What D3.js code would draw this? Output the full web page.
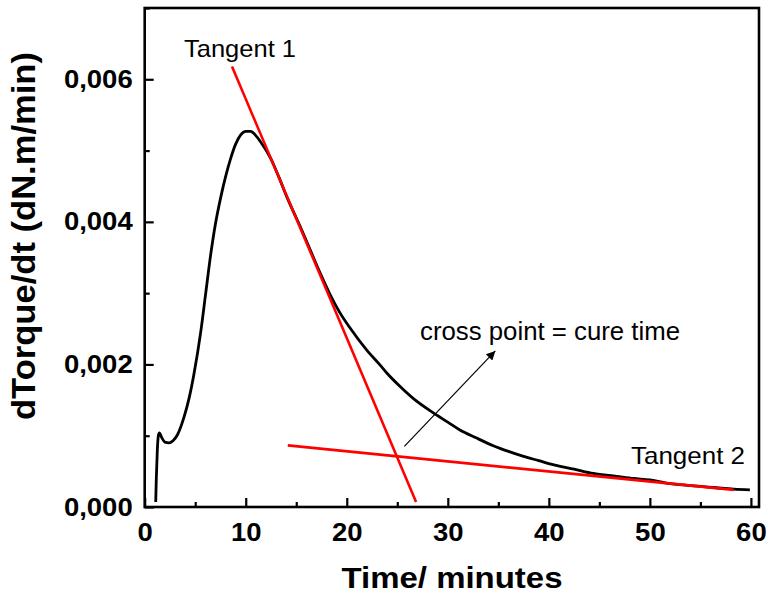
<!DOCTYPE html>
<html>
<head>
<meta charset="utf-8">
<script src="https://cdn.jsdelivr.net/npm/d3@7"></script>
<style>
  html, body { margin: 0; padding: 0; background: #fff; }
  svg { display: block; }
  text { font-family: "Liberation Sans", Arial, Helvetica, sans-serif; }
</style>
</head>
<body>
<svg id="chart" width="768" height="595"></svg>
<script>
// ---- data ----
const time = [1.09, 1.15, 1.25, 1.35, 1.45, 1.7, 2.0, 2.4, 2.8, 3.23, 3.89, 4.4, 4.88, 5.54, 6.04, 6.53, 7.0, 7.52, 8.0, 8.51, 9.0, 9.5, 10.0, 10.5, 11.0, 11.48, 12.47, 13.3, 14.1, 15.37, 16.4, 17.4, 18.35, 19.3, 20.33, 21.98, 23.3, 23.96, 25.28, 26.6, 28.57, 30.0, 31.2, 32.8, 34.5, 36.0, 37.5, 39.0, 40.5, 42.5, 44.4, 46.7, 48.4, 50.0, 51.5, 53.3, 55.0, 56.6, 58.3, 59.9];
const dTorque = [0.00007, 0.0004, 0.0008, 0.00100, 0.00104, 0.00097, 0.00091, 0.00090, 0.00093, 0.00101, 0.00126, 0.00153, 0.00187, 0.00245, 0.00300, 0.00354, 0.00397, 0.00434, 0.00463, 0.00489, 0.00509, 0.00522, 0.00527, 0.00527, 0.00521, 0.00512, 0.00489, 0.00462, 0.00434, 0.00394, 0.00360, 0.00327, 0.00298, 0.00273, 0.00251, 0.00220, 0.00199, 0.00188, 0.00169, 0.00152, 0.00132, 0.00119, 0.00108, 0.00097, 0.00086, 0.00078, 0.00071, 0.00065, 0.00059, 0.00053, 0.00047, 0.00043, 0.00040, 0.00038, 0.00034, 0.00031, 0.00029, 0.00027, 0.00025, 0.00024];
const tangent1 = [[8.64, 0.00618], [26.86, 0.00007]];
const tangent2 = [[14.16, 0.000864], [58.3, 0.00024]];
const arrowPts = [[25.7, 0.00085], [34.7, 0.00219]];
const xTicks = [0, 10, 20, 30, 40, 50, 60];
const xMinor = [5, 15, 25, 35, 45, 55];
const yTicks = [0, 0.002, 0.004, 0.006];
const yMinor = [0.001, 0.003, 0.005, 0.007];
const labels = { x: "Time/ minutes", y: "dTorque/dt (dN.m/min)", t1: "Tangent 1", t2: "Tangent 2", cross: "cross point = cure time" };

// ---- drawing ----
const svg = d3.select("#chart");
const x = d3.scaleLinear().domain([0, 60.8]).range([144.7, 759]);
const y = d3.scaleLinear().domain([0, 0.007]).range([507, 8]);
const fmt = v => d3.format(".3f")(v).replace(".", ",");

const defs = svg.append("defs");
defs.append("marker").attr("id", "ah").attr("viewBox", "0 0 10 10")
  .attr("refX", 10).attr("refY", 5).attr("markerWidth", 12).attr("markerHeight", 9)
  .attr("markerUnits", "userSpaceOnUse").attr("orient", "auto")
  .append("path").attr("d", "M0,0 L10,5 L0,10 Z").attr("fill", "#000");

// minor ticks
const gxm = svg.append("g").attr("transform", `translate(0,${y(0)})`)
  .call(d3.axisBottom(x).tickValues(xMinor).tickSize(-5).tickFormat(""));
const gym = svg.append("g").attr("transform", `translate(${x(0)},0)`)
  .call(d3.axisLeft(y).tickValues(yMinor).tickSize(-5).tickFormat(""));
[gxm, gym].forEach(g => { g.select(".domain").remove(); g.selectAll("line").attr("stroke", "#000").attr("stroke-width", 2.2); });

// major axes
const gx = svg.append("g").attr("transform", `translate(0,${y(0)})`)
  .call(d3.axisBottom(x).tickValues(xTicks).tickSize(-9).tickPadding(16).tickFormat(d3.format("d")));
const gy = svg.append("g").attr("transform", `translate(${x(0)},0)`)
  .call(d3.axisLeft(y).tickValues(yTicks).tickSize(-9).tickPadding(12).tickFormat(fmt));
[gx, gy].forEach(g => {
  g.select(".domain").remove();
  g.selectAll("line").attr("stroke", "#000").attr("stroke-width", 2.2);
  g.selectAll("text").attr("font-size", 25).attr("font-weight", "bold").attr("fill", "#000")
    .style("font-family", '"Liberation Sans", Arial, sans-serif')
    .each(function () {
      const t = d3.select(this);
      t.attr("textLength", this.getComputedTextLength() * 1.1).attr("lengthAdjust", "spacingAndGlyphs");
    });
});

// frame
svg.append("rect").attr("x", x(0)).attr("y", y(0.007))
  .attr("width", x(60.8) - x(0)).attr("height", y(0) - y(0.007))
  .attr("fill", "none").attr("stroke", "#000").attr("stroke-width", 2.6);

// curve
const line = d3.line().x(d => x(d[0])).y(d => y(d[1])).curve(d3.curveMonotoneX);
svg.append("path").datum(time.map((t, i) => [t, dTorque[i]]))
  .attr("d", line).attr("fill", "none").attr("stroke", "#000").attr("stroke-width", 2.8)
  .attr("stroke-linejoin", "round");

// tangents
const straight = d3.line().x(d => x(d[0])).y(d => y(d[1]));
[tangent1, tangent2].forEach(t => svg.append("path").attr("d", straight(t))
  .attr("stroke", "#ff0000").attr("stroke-width", 2.6).attr("fill", "none"));

// arrow
svg.append("path").attr("d", straight(arrowPts)).attr("stroke", "#000").attr("stroke-width", 1.2)
  .attr("fill", "none").attr("marker-end", "url(#ah)");

// annotations
function note(txt, px, py, len, size) {
  svg.append("text").attr("x", px).attr("y", py).attr("font-size", size).attr("fill", "#000")
    .attr("textLength", len).attr("lengthAdjust", "spacingAndGlyphs").text(txt);
}
note(labels.t1, 184, 57, 112, 24);
note(labels.t2, 631, 464, 114, 24);
note(labels.cross, 420, 340, 260, 25);

// axis titles
svg.append("text").attr("x", 452).attr("y", 588).attr("text-anchor", "middle")
  .attr("font-size", 30).attr("font-weight", "bold").attr("textLength", 221)
  .attr("lengthAdjust", "spacingAndGlyphs").text(labels.x);
svg.append("text").attr("transform", "translate(35,236) rotate(-90)").attr("text-anchor", "middle")
  .attr("font-size", 34).attr("font-weight", "bold").attr("textLength", 368)
  .attr("lengthAdjust", "spacingAndGlyphs").text(labels.y);
</script>
</body>
</html>
